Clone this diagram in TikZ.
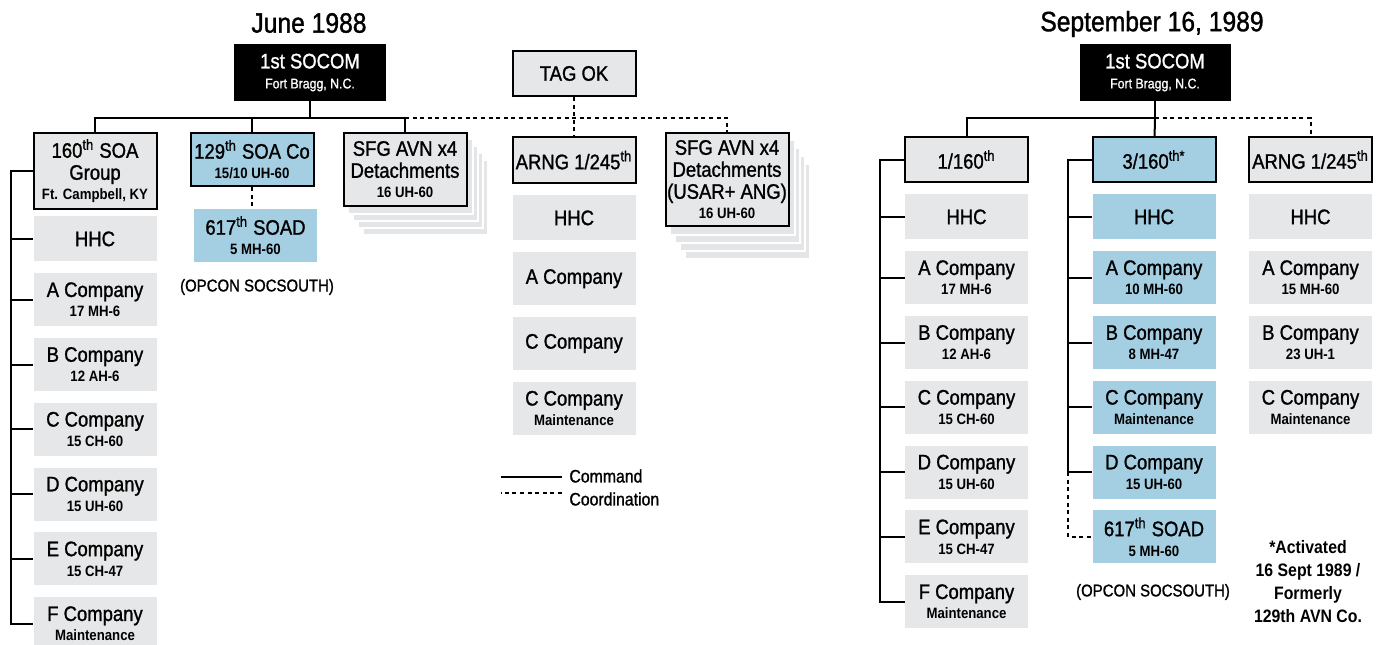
\documentclass[tikz,border=0pt]{standalone}
\usepackage{fontspec}
\setmainfont{Liberation Sans}[FakeStretch=0.88, UprightFeatures={FakeBold=1.2}]
\usetikzlibrary{positioning, backgrounds}
\definecolor{unitgray}{HTML}{E6E7E8}
\definecolor{unitblue}{HTML}{A4CFE3}
\definecolor{shadowgray}{HTML}{E4E5E6}

\newcommand{\ordth}{\textsuperscript{th}}
\newcommand{\unitsub}[1]{{\fontsize{7.5}{9}\selectfont\bfseries #1}}

\begin{document}
\begin{tikzpicture}[
    x=0.5pt, y=-0.5pt,
    node distance=5.5pt,
    every node/.style={font=\fontsize{10.5}{11}\selectfont, align=center, inner sep=0pt},
    chief/.style={fill=black, text=white, minimum width=76pt, minimum height=28.5pt},
    hq/.style={draw=black, line width=1pt, fill=unitgray,
               minimum width=61.5pt, minimum height=22.5pt},
    hqblue/.style={hq, fill=unitblue},
    coy/.style={fill=unitgray, minimum width=61.5pt, minimum height=26.5pt},
    coyblue/.style={coy, fill=unitblue},
    hhcbox/.style={coy, minimum height=22.5pt},
    hhcblue/.style={hhcbox, fill=unitblue},
    datehead/.style={font=\fontsize{14}{16}\selectfont},
    note/.style={font=\fontsize{8.5}{10}\selectfont},
    keytext/.style={font=\fontsize{9}{10}\selectfont},
    shadowbox/.style={fill=shadowgray, draw=white, line width=1pt},
    cmd/.style={line width=1pt, black},
    coord/.style={line width=1pt, black, dash pattern=on 2pt off 1.8pt},
  ]
    \useasboundingbox (0,0) rectangle (1380,644);
    \clip (0,0) rectangle (1380,644);

    % ---------- June 1988 ----------
    \node[datehead] (date88) at (309,23) {June 1988};
    \node[chief] (soc88) at (310,72.5) {1st SOCOM\\[-1pt]{\fontsize{7}{8}\selectfont Fort Bragg, N.C.}};
    \node[hq] (tag) at (574,73.5) {TAG OK};

    \node[hq, minimum height=38pt] (soa160) at (95,171) {160\ordth{} SOA\\Group\\[-1pt]\unitsub{Ft. Campbell, KY}};
    \node[hhcbox, below=3pt of soa160] (hhc88) {HHC};
    \node[coy, below=of hhc88] (a88) {A Company\\[-1pt]\unitsub{17 MH-6}};
    \node[coy, below=of a88]   (b88) {B Company\\[-1pt]\unitsub{12 AH-6}};
    \node[coy, below=of b88]   (c88) {C Company\\[-1pt]\unitsub{15 CH-60}};
    \node[coy, below=of c88]   (d88) {D Company\\[-1pt]\unitsub{15 UH-60}};
    \node[coy, below=of d88]   (e88) {E Company\\[-1pt]\unitsub{15 CH-47}};
    \node[coy, below=of e88]   (f88) {F Company\\[-1pt]\unitsub{Maintenance}};

    \node[hqblue, minimum height=26.5pt] (soa129) at (252,159.5) {129\ordth{} SOA Co\\[-1pt]\unitsub{15/10 UH-60}};
    \node[coyblue] (soad88) at (255.5,235.5) {617\ordth{} SOAD\\[-1pt]\unitsub{5 MH-60}};
    \node[note] (opcon88) at (257,287) {(OPCON SOCSOUTH)};

    \node[hq, minimum height=36.5pt] (sfg88) at (405,169.5) {SFG AVN x4\\Detachments\\[-1pt]\unitsub{16 UH-60}};

    \node[hq, minimum height=23pt] (arng88) at (574,160) {ARNG 1/245\ordth};
    \node[hhcbox, below=of arng88] (nghhc88) {HHC};
    \node[coy, below=of nghhc88] (nga88) {A Company};
    \node[coy, below=of nga88]   (ngc88) {C Company};
    \node[coy, below=of ngc88]   (ngm88) {C Company\\[-1pt]\unitsub{Maintenance}};

    \node[hq, minimum height=46.5pt] (sfgr88) at (727,179.5) {SFG AVN x4\\Detachments\\(USAR+ ANG)\\[-1pt]\unitsub{16 UH-60}};

    % stacked detachments
    \begin{scope}[on background layer]
      \foreach \k in {4,3,2,1} {
        \draw[shadowbox] ([shift={(5*\k,7*\k)}]sfg88.south west) rectangle ([shift={(5*\k,7*\k)}]sfg88.north east);
        \draw[shadowbox] ([shift={(5*\k,8*\k)}]sfgr88.south west) rectangle ([shift={(5*\k,8*\k)}]sfgr88.north east);
      }
    \end{scope}

    % legend
    \node[keytext, anchor=west] (cmdkey) at (569,476) {Command};
    \node[keytext, anchor=west] (coordkey) at (569,499) {Coordination};
    \draw[cmd] ([shift={(-7,1)}]cmdkey.west) -- ++(-61,0);
    \draw[coord, line width=0.75pt] ([shift={(-7,-6)}]coordkey.west) -- ++(-61,0);

    % ---------- September 16, 1989 ----------
    \node[datehead] (date89) at (1152,24) {September 16, 1989};
    \node[chief, minimum width=75.5pt] (soc89) at (1155,72.5) {1st SOCOM\\[-1pt]{\fontsize{7}{8}\selectfont Fort Bragg, N.C.}};

    \node[hq] (bn1) at (966.5,159.5) {1/160\ordth};
    \node[hhcbox, below=of bn1] (hhc1) {HHC};
    \node[coy, below=of hhc1] (a1) {A Company\\[-1pt]\unitsub{17 MH-6}};
    \node[coy, below=of a1]   (b1) {B Company\\[-1pt]\unitsub{12 AH-6}};
    \node[coy, below=of b1]   (c1) {C Company\\[-1pt]\unitsub{15 CH-60}};
    \node[coy, below=of c1]   (d1) {D Company\\[-1pt]\unitsub{15 UH-60}};
    \node[coy, below=of d1]   (e1) {E Company\\[-1pt]\unitsub{15 CH-47}};
    \node[coy, below=of e1]   (f1) {F Company\\[-1pt]\unitsub{Maintenance}};

    \node[hqblue] (bn3) at (1154,159.5) {3/160\textsuperscript{th*}};
    \node[hhcblue, below=of bn3] (hhc3) {HHC};
    \node[coyblue, below=of hhc3] (a3) {A Company\\[-1pt]\unitsub{10 MH-60}};
    \node[coyblue, below=of a3]   (b3) {B Company\\[-1pt]\unitsub{8 MH-47}};
    \node[coyblue, below=of b3]   (c3) {C Company\\[-1pt]\unitsub{Maintenance}};
    \node[coyblue, below=of c3]   (d3) {D Company\\[-1pt]\unitsub{15 UH-60}};
    \node[coyblue, below=of d3]   (soad89) {617\ordth{} SOAD\\[-1pt]\unitsub{5 MH-60}};
    \node[note] (opcon89) at (1153,592) {(OPCON SOCSOUTH)};

    \node[hq] (arng89) at (1310.5,159.5) {ARNG 1/245\ordth};
    \node[hhcbox, below=of arng89] (nghhc89) {HHC};
    \node[coy, below=of nghhc89] (nga89) {A Company\\[-1pt]\unitsub{15 MH-60}};
    \node[coy, below=of nga89]   (ngb89) {B Company\\[-1pt]\unitsub{23 UH-1}};
    \node[coy, below=of ngb89]   (ngc89) {C Company\\[-1pt]\unitsub{Maintenance}};

    \node[font=\fontsize{9}{11.5}\selectfont\bfseries] (actnote) at (1308,582) {*Activated\\16 Sept 1989 /\\Formerly\\129th AVN Co.};

    % command and coordination lines
    \coordinate (bus88) at (310,118);
    \coordinate (bus89) at (1155,118);

    \draw[cmd] (soc88) -- (bus88);
    \draw[cmd] (bus88) -| (soa160);
    \draw[cmd] (bus88) -| (soa129);
    \draw[cmd] (bus88) -| (sfg88);
    \draw[coord] (sfg88 |- bus88) -| (sfgr88);
    \draw[coord] (tag) -- (arng88);
    \draw[coord] (soa129.south) -- (soa129.south |- soad88.north);

    \draw[cmd] (soa160.west) -- ++(-22,0) |- (f88.west);
    \draw[cmd] (hhc88.west) -- ++(-22,0);
    \draw[cmd] (a88.west) -- ++(-22,0);
    \draw[cmd] (b88.west) -- ++(-22,0);
    \draw[cmd] (c88.west) -- ++(-22,0);
    \draw[cmd] (d88.west) -- ++(-22,0);
    \draw[cmd] (e88.west) -- ++(-22,0);

    \draw[cmd] (soc89) -- (bus89);
    \draw[cmd] (bus89) -| (bn1);
    \draw[cmd] (bus89) -- (bn3);
    \draw[coord] (bus89) -| (arng89);

    \draw[cmd] (bn1.west) -- ++(-24,0) |- (f1.west);
    \draw[cmd] (hhc1.west) -- ++(-24,0);
    \draw[cmd] (a1.west) -- ++(-24,0);
    \draw[cmd] (b1.west) -- ++(-24,0);
    \draw[cmd] (c1.west) -- ++(-24,0);
    \draw[cmd] (d1.west) -- ++(-24,0);
    \draw[cmd] (e1.west) -- ++(-24,0);

    \draw[cmd] (bn3.west) -- ++(-24,0) |- (d3.west);
    \draw[cmd] (hhc3.west) -- ++(-24,0);
    \draw[cmd] (a3.west) -- ++(-24,0);
    \draw[cmd] (b3.west) -- ++(-24,0);
    \draw[cmd] (c3.west) -- ++(-24,0);
    \draw[coord] ([xshift=-12pt]d3.west) |- (soad89.west);
\end{tikzpicture}
\end{document}
